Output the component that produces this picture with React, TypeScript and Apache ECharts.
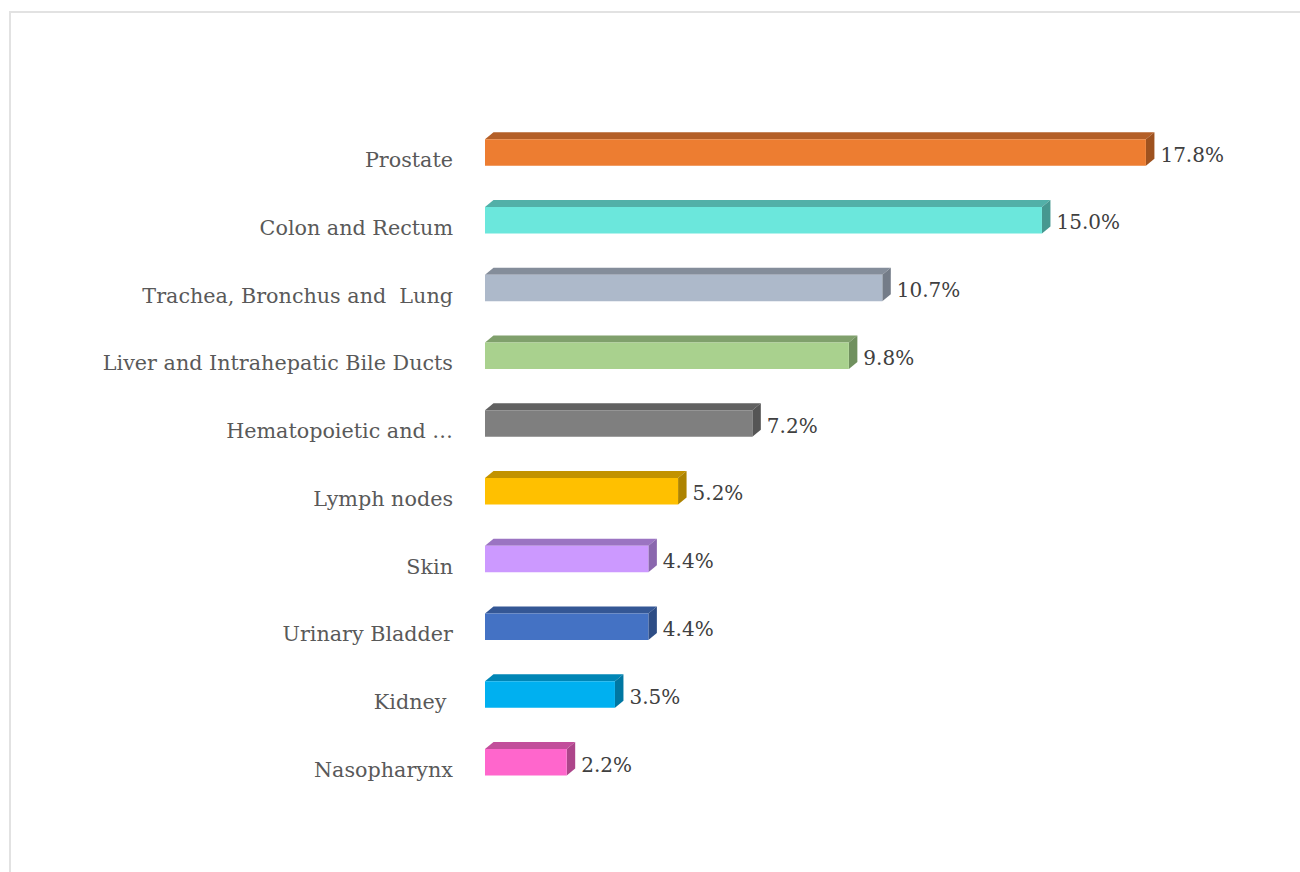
import React, { useEffect, useRef } from "react";
import * as echarts from "echarts";

const categories = [
  "Prostate",
  "Colon and Rectum",
  "Trachea, Bronchus and  Lung",
  "Liver and Intrahepatic Bile Ducts",
  "Hematopoietic and …",
  "Lymph nodes",
  "Skin",
  "Urinary Bladder",
  "Kidney ",
  "Nasopharynx",
];
const values = [17.8, 15.0, 10.7, 9.8, 7.2, 5.2, 4.4, 4.4, 3.5, 2.2];

const frontColors = ["#ED7D31", "#6BE7DC", "#ADB9CA", "#A9D18E", "#7F7F7F", "#FFC000", "#CC99FF", "#4472C4", "#00B0F0", "#FF66CC"];
const topColors = ["#B45F27", "#52B0A8", "#848D9A", "#80A06C", "#616161", "#C29200", "#9B74C2", "#345795", "#0086B6", "#C24E9B"];
const sideColors = ["#9E521F", "#469890", "#747C88", "#70905E", "#555555", "#AD8300", "#8A67AE", "#2E4D85", "#0077A2", "#AD458A"];

export default function App() {
  const ref = useRef<HTMLDivElement>(null);
  useEffect(() => {
    const chart = echarts.init(ref.current!, null, { renderer: "svg" });
    const DX = 8.5;
    const DY = 7;
    chart.setOption({
      animation: false,
      backgroundColor: "#ffffff",
      graphic: [
        {
          type: "rect",
          shape: { x: 10, y: 12, width: 1320, height: 900 },
          style: { fill: "none", stroke: "#e2e2e2", lineWidth: 2 },
          silent: true,
        },
      ],
      grid: { left: 485, right: 72.4, top: 126.1, bottom: 68.3, containLabel: false },
      xAxis: {
        type: "value",
        min: 0,
        max: 20,
        show: false,
      },
      yAxis: {
        type: "category",
        data: categories,
        inverse: true,
        axisLine: { show: false },
        axisTick: { show: false },
        splitLine: { show: false },
        axisLabel: {
          margin: 32,
          fontFamily: "DejaVu Serif",
          fontSize: 20.7,
          color: "#595959",
        },
      },
      series: [
        {
          type: "custom",
          data: values.map((v, i) => [v, i]),
          encode: { x: 0, y: 1 },
          renderItem: (params: any, api: any) => {
            const v = api.value(0);
            const idx = api.value(1);
            const p0 = api.coord([0, idx]);
            const p1 = api.coord([v, idx]);
            const x0 = p0[0];
            const x1 = p1[0];
            const cy = p0[1];
            const top = cy - 20.7;
            const bottom = cy + 5.7;
            const i = params.dataIndex;
            return {
              type: "group",
              children: [
                {
                  type: "polygon",
                  shape: { points: [[x0, top], [x0 + DX, top - DY], [x1 + DX, top - DY], [x1, top]] },
                  style: { fill: topColors[i] },
                },
                {
                  type: "polygon",
                  shape: { points: [[x1, top], [x1 + DX, top - DY], [x1 + DX, bottom - DY], [x1, bottom]] },
                  style: { fill: sideColors[i] },
                },
                {
                  type: "rect",
                  shape: { x: x0, y: top, width: x1 - x0, height: bottom - top },
                  style: { fill: frontColors[i] },
                },
                {
                  type: "text",
                  style: {
                    text: v.toFixed(1) + "%",
                    x: x1 + DX + 6,
                    y: cy - 5.3,
                    verticalAlign: "middle",
                    align: "left",
                    fill: "#404040",
                    fontFamily: "DejaVu Serif",
                    fontSize: 20,
                  },
                },
              ],
            };
          },
        },
      ],
    });
    return () => chart.dispose();
  }, []);
  return (
    <div
      ref={ref}
      style={{ position: "absolute", left: 0, top: 0, width: 1300, height: 872 }}
    />
  );
}
